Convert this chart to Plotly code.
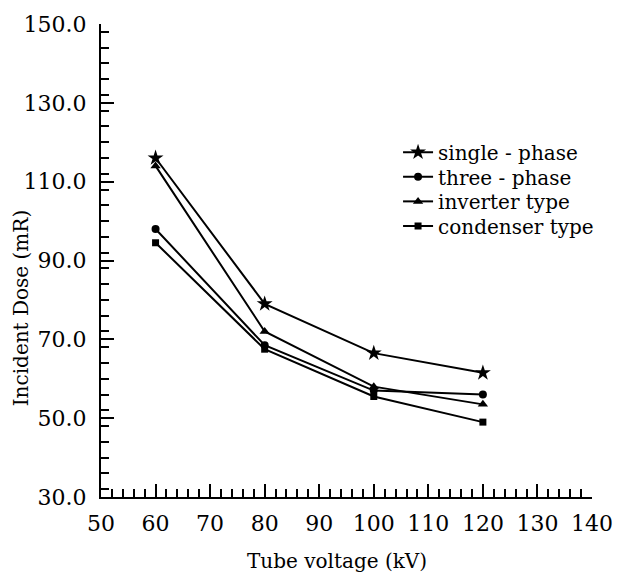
import plotly.graph_objects as go

voltage = [60, 80, 100, 120]
single_phase = [116.0, 79.0, 66.5, 61.5]
three_phase = [98.0, 68.5, 57.0, 56.0]
inverter_type = [114.0, 72.0, 58.0, 53.5]
condenser_type = [94.5, 67.5, 55.5, 49.0]

series = [
    ("single - phase", single_phase, "star", 12),
    ("three - phase", three_phase, "circle", 8),
    ("inverter type", inverter_type, "triangle-up", 9),
    ("condenser type", condenser_type, "square", 7),
]

FONT = "DejaVu Serif"
fig = go.Figure()
legend_names = ["legend", "legend2", "legend3", "legend4"]
for (name, vals, sym, sz), lg in zip(series, legend_names):
    fig.add_trace(go.Scatter(
        x=voltage, y=vals, name=name, mode="lines+markers",
        line=dict(color="black", width=2),
        marker=dict(symbol=sym, size=sz, color="black"),
        legend=lg,
    ))

axis_common = dict(
    showline=True, linewidth=2, linecolor="black", mirror=False,
    ticks="inside", tickwidth=2, tickcolor="black",
    showgrid=False, zeroline=False,
    tickfont=dict(family=FONT, size=22, color="black"),
)
fig.update_xaxes(
    range=[50, 140], dtick=10, tick0=50, ticklen=13,
    minor=dict(dtick=2, ticks="inside", ticklen=8, tickwidth=2, tickcolor="black", showgrid=False),
    ticklabelstandoff=6,
    **axis_common,
)
fig.update_yaxes(
    range=[30, 150], dtick=20, tick0=30, ticklen=13, tickformat=".1f",
    minor=dict(dtick=4, ticks="inside", ticklen=8, tickwidth=2, tickcolor="black", showgrid=False),
    ticklabelstandoff=8,
    **axis_common,
)
fig.add_annotation(
    text="Tube voltage (kV)", xref="paper", yref="paper", x=0.48, y=-0.135,
    showarrow=False, yanchor="middle", font=dict(family=FONT, size=20, color="black"),
)
fig.add_annotation(
    text="Incident Dose (mR)", xref="paper", yref="paper", x=-0.164, y=0.40,
    showarrow=False, textangle=-90, xanchor="center", yanchor="middle",
    font=dict(family=FONT, size=20, color="black"),
)

legend_style = dict(x=0.605, xanchor="left", yanchor="middle",
                    font=dict(family=FONT, size=20, color="black"),
                    bgcolor="rgba(0,0,0,0)")
legend_y = [0.729, 0.677, 0.625, 0.573]
layout_legends = {lg: dict(y=yv, **legend_style) for lg, yv in zip(legend_names, legend_y)}

fig.update_layout(
    width=625, height=582,
    margin=dict(l=101, r=29, t=16, b=85),
    plot_bgcolor="white", paper_bgcolor="white",
    showlegend=True,
    **layout_legends,
)
fig.write_html("out.html")
